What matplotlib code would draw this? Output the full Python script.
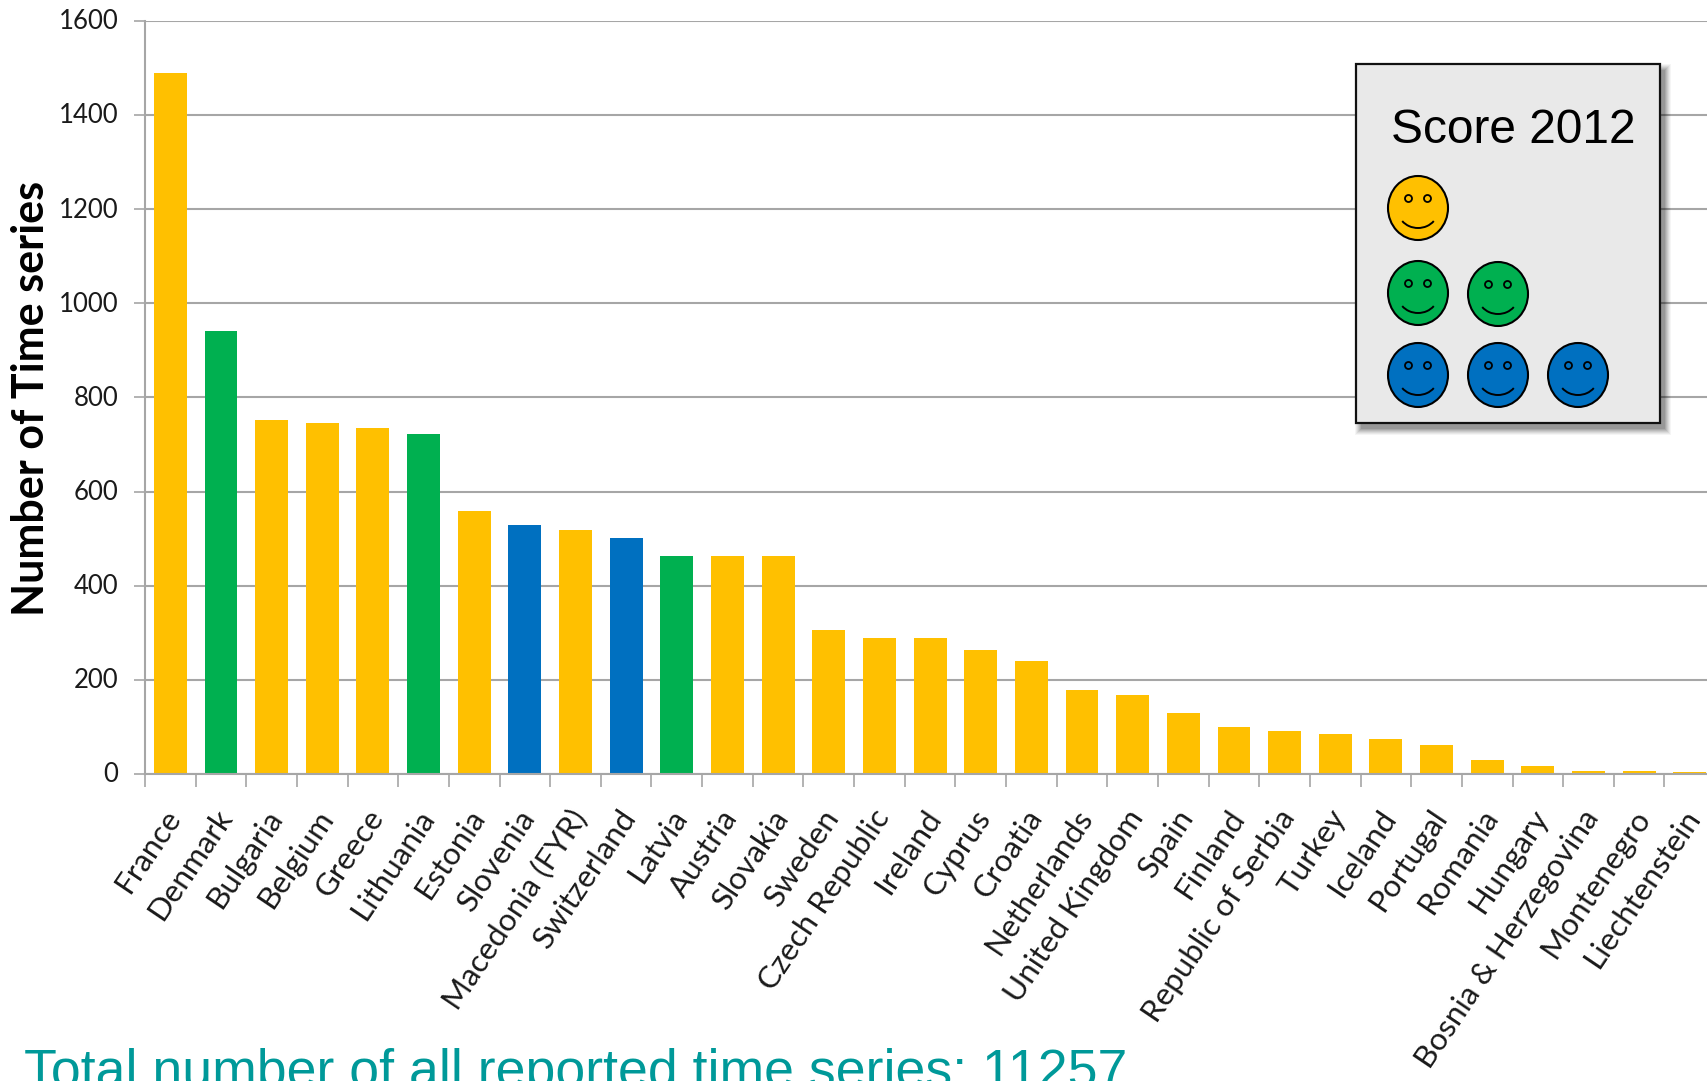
import matplotlib
matplotlib.use("Agg")
import matplotlib.pyplot as plt
from matplotlib.patches import Rectangle, Ellipse, Arc
from matplotlib.transforms import ScaledTranslation

countries = ["France", "Denmark", "Bulgaria", "Belgium", "Greece", "Lithuania", "Estonia",
             "Slovenia", "Macedonia (FYR)", "Switzerland", "Latvia", "Austria", "Slovakia",
             "Sweden", "Czech Republic", "Ireland", "Cyprus", "Croatia", "Netherlands",
             "United Kingdom", "Spain", "Finland", "Republic of Serbia", "Turkey", "Iceland",
             "Portugal", "Romania", "Hungary", "Bosnia & Herzegovina", "Montenegro", "Liechtenstein"]
time_series = [1488, 940, 752, 745, 735, 722, 558, 528, 518, 502, 463, 463, 463, 305, 288, 288,
               263, 240, 178, 167, 130, 100, 92, 85, 75, 62, 30, 17, 7, 7, 5]
score = [1, 2, 1, 1, 1, 2, 1, 3, 1, 3, 2, 1, 1, 1, 1, 1, 1, 1, 1, 1, 1, 1, 1, 1, 1, 1, 1, 1, 1, 1, 1]
score_colors = {1: "#FFC000", 2: "#00B050", 3: "#0070C0"}
y_ticks = [0, 200, 400, 600, 800, 1000, 1200, 1400, 1600]

W, H = 1708, 1081
GREY = "#A6A6A6"
fig = plt.figure(figsize=(W / 100, H / 100), dpi=100, facecolor="white")

# The plot area runs slightly past the right edge of the canvas
left, right, top, bottom = 145, 145 + 31 * 50.65, 20.7, 774
ax = fig.add_axes([left / W, 1 - bottom / H, (right - left) / W, (bottom - top) / H])
ax.set_xlim(-0.5, 30.5)
ax.set_ylim(0, 1600)
ax.bar(range(len(countries)), time_series, width=0.65,
       color=[score_colors[s] for s in score], zorder=3)

for name in ("top", "right"):
    ax.spines[name].set_visible(False)
for name in ("left", "bottom"):
    ax.spines[name].set_color(GREY)
    ax.spines[name].set_linewidth(1.5)
ax.spines["bottom"].set_zorder(4)

ax.set_yticks(y_ticks)
ax.set_yticklabels([str(v) for v in y_ticks], family="Lato", fontsize=18.5, color="#1a1a1a",
                    va="center_baseline")
ax.tick_params(axis="y", length=8, width=1.2, color=GREY, pad=11)
ax.yaxis.grid(True, color=GREY, linewidth=1.5, zorder=1)
ax.set_axisbelow(True)
nudge_up = ScaledTranslation(0, 1.5 / 100, fig.dpi_scale_trans)
for lab in ax.get_yticklabels():
    lab.set_transform(lab.get_transform() + nudge_up)

ax.set_xticks(range(len(countries)))
ax.set_xticklabels(countries, rotation=56, ha="right", va="top", rotation_mode="anchor",
                   family="Lato", fontsize=22.6, color="#1a1a1a")
ax.tick_params(axis="x", which="major", length=0, pad=22)
ax.set_xticks([i - 0.5 for i in range(len(countries) + 1)], minor=True)
ax.tick_params(axis="x", which="minor", length=9, width=1.2, color=GREY)
nudge_left = ScaledTranslation(-7.5 / 100, 0, fig.dpi_scale_trans)
for lab in ax.get_xticklabels():
    lab.set_transform(lab.get_transform() + nudge_left)

fig.text(31 / W, 1 - 398 / H, "Number of Time series", rotation=90, ha="center", va="center",
         family="Lato", fontweight="bold", fontsize=31, color="black")
fig.text(24 / W, 1 - 1087 / H, "Total number of all reported time series: 11257",
         family="Liberation Sans", fontsize=38.6, color="#009999", ha="left", va="baseline")

# Score key drawn on an overlay measured in canvas pixels
key = fig.add_axes([0, 0, 1, 1], facecolor="none")
key.set_xlim(0, W)
key.set_ylim(H, 0)
key.axis("off")

box_x, box_y, box_w, box_h = 1356, 64, 304, 359
for grow, alpha in ((6, 0.04), (5, 0.05), (4, 0.06), (3, 0.07), (2, 0.08), (1, 0.09), (0, 0.10)):
    key.add_patch(Rectangle((box_x + 5 - grow, box_y + 6 - grow), box_w + 2 * grow, box_h + 2 * grow,
                            facecolor="black", edgecolor="none", alpha=alpha))
key.add_patch(Rectangle((box_x, box_y), box_w, box_h, facecolor="#E9E9E9",
                        edgecolor="#111111", linewidth=1.6))
key.text(1391, 143, "Score 2012", family="Liberation Sans", fontsize=34.5, color="black",
         ha="left", va="baseline")


def smiley(cx, cy, color):
    key.add_patch(Ellipse((cx, cy), 60, 64, facecolor=color, edgecolor="black", linewidth=1.5))
    for dx in (-9.5, 9.5):
        key.add_patch(Ellipse((cx + dx, cy - 9.5), 7, 7, facecolor="none",
                              edgecolor="black", linewidth=1.3))
    key.add_patch(Arc((cx, cy + 2), 40, 36, theta1=35, theta2=145, edgecolor="black", linewidth=1.4))


smiley(1418, 208, score_colors[1])
smiley(1418, 293, score_colors[2])
smiley(1498, 294, score_colors[2])
for cx in (1418, 1498, 1578):
    smiley(cx, 375, score_colors[3])

fig.savefig("out.png", dpi=100)
